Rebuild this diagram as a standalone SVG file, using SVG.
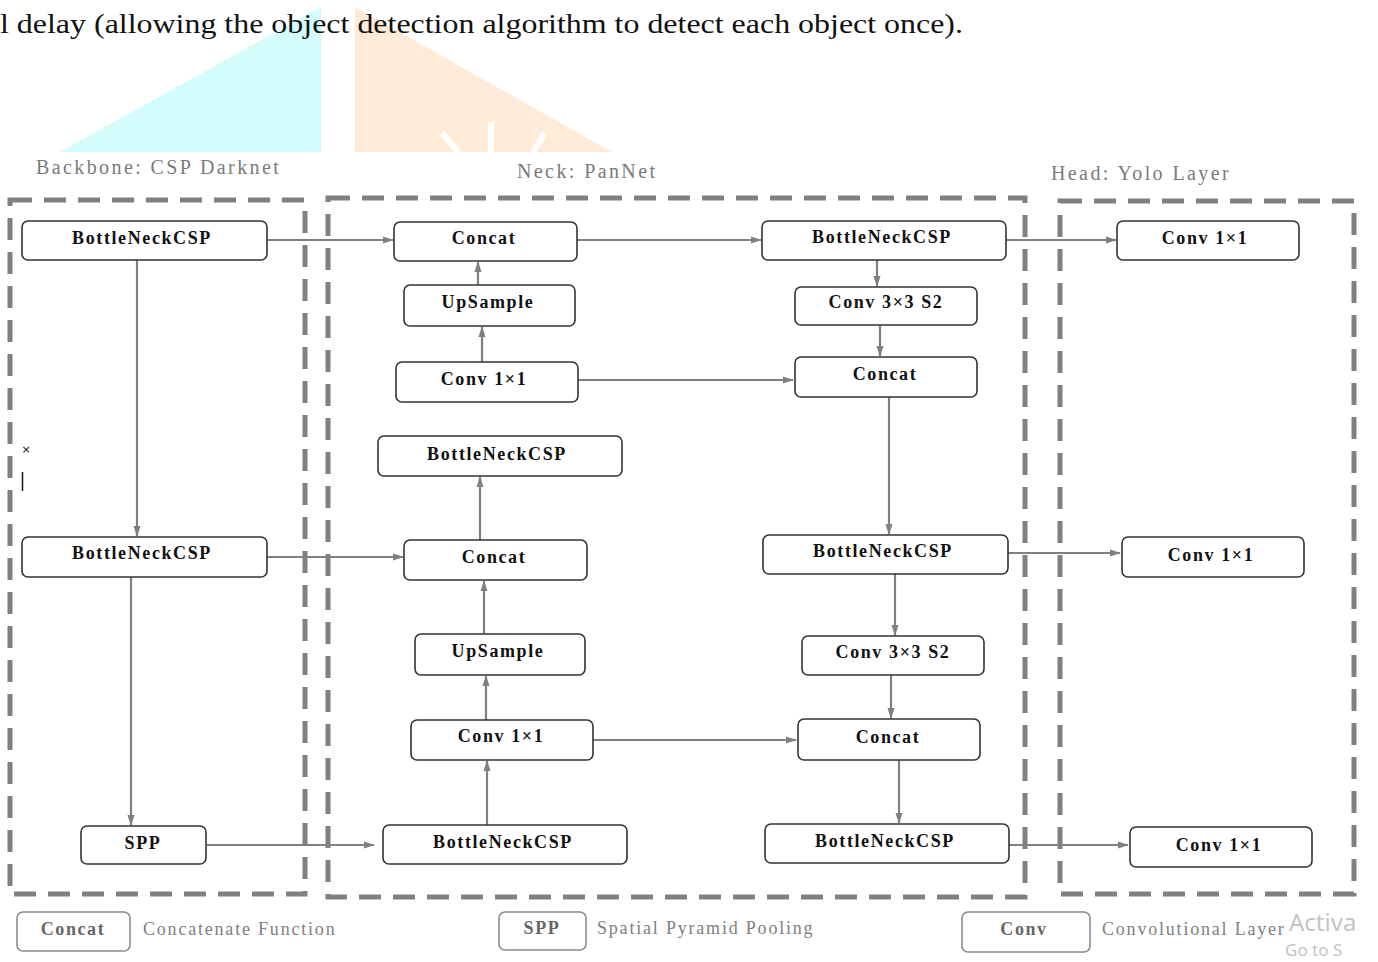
<svg xmlns="http://www.w3.org/2000/svg" width="1378" height="962" viewBox="0 0 1378 962">
<defs>
<marker id="ah" markerWidth="11" markerHeight="9" refX="10" refY="4.5" orient="auto" markerUnits="userSpaceOnUse">
<path d="M0,1 L11,4.5 L0,8 Z" fill="#808080"/>
</marker>
<style>
.box{fill:#fff;stroke:#333;stroke-width:1.6}
.lbox{fill:#fff;stroke:#8a8a8a;stroke-width:1.6}
.t{font-family:"Liberation Serif","Times New Roman",serif;font-weight:bold;font-size:18px;letter-spacing:1.6px;fill:#111;text-anchor:middle}
.lt{font-family:"Liberation Serif","Times New Roman",serif;font-weight:bold;font-size:18px;letter-spacing:1.6px;fill:#666;text-anchor:middle}
.sec{font-family:"Liberation Serif","Times New Roman",serif;font-size:20px;fill:#7a7a7a;letter-spacing:2.4px}
.leg{font-family:"Liberation Serif","Times New Roman",serif;font-size:18px;fill:#808080;letter-spacing:1.8px}
.dash{fill:none;stroke:#808080;stroke-width:5;stroke-dasharray:22 12}
.c{fill:none;stroke:#808080;stroke-width:2.2;marker-end:url(#ah)}
.body{font-family:"Liberation Serif","Times New Roman",serif;font-size:27px;fill:#111}
.wm1{font-family:"Noto Sans","Open Sans",sans-serif;font-size:24px;fill:#c4c4c4}
.wm2{font-family:"Noto Sans","Open Sans",sans-serif;font-size:17px;fill:#c4c4c4}
</style>
</defs>
<rect width="1378" height="962" fill="#fff"/>
<polygon points="60,152 321,7 321,152" fill="#D4FCFC"/>
<polygon points="355,7 355,152 612,152" fill="#FFEBD8"/>
<g stroke="#fff" stroke-width="6" fill="none">
<line x1="491" y1="122" x2="491" y2="152"/>
<line x1="442" y1="133" x2="458" y2="152"/>
<line x1="545" y1="133" x2="533" y2="152"/>
</g>
<text class="body" x="0" y="33" textLength="963" lengthAdjust="spacingAndGlyphs">l delay (allowing the object detection algorithm to detect each object once).</text>

<text class="sec" x="36" y="174">Backbone: CSP Darknet</text>
<text class="sec" x="517" y="178">Neck: PanNet</text>
<text class="sec" x="1051" y="180">Head: Yolo Layer</text>

<g id="groups">
<rect class="dash" x="10" y="200" width="295" height="694"/>
<rect class="dash" x="328" y="198" width="697" height="699"/>
<rect class="dash" x="1060" y="201" width="294" height="693"/>
</g>

<g id="connectors">
<path class="c" d="M267,240 H393"/>
<path class="c" d="M577,240 H761"/>
<path class="c" d="M1006,240 H1116"/>
<path class="c" d="M137,260 V536"/>
<path class="c" d="M131,577 V825"/>
<path class="c" d="M267,557 H403"/>
<path class="c" d="M207,845 H374"/>
<path class="c" d="M478,285 V262"/>
<path class="c" d="M482,362 V327"/>
<path class="c" d="M578,380 H793"/>
<path class="c" d="M480,540 V477"/>
<path class="c" d="M484,634 V581"/>
<path class="c" d="M486,720 V676"/>
<path class="c" d="M487,825 V761"/>
<path class="c" d="M593,740 H796"/>
<path class="c" d="M877,260 V286"/>
<path class="c" d="M880,325 V356"/>
<path class="c" d="M889,397 V534"/>
<path class="c" d="M895,574 V635"/>
<path class="c" d="M891,675 V718"/>
<path class="c" d="M899,760 V823"/>
<path class="c" d="M1008,553 H1120"/>
<path class="c" d="M1009,845 H1128"/>
</g>

<g id="bb1"><rect class="box" x="22" y="221" width="245" height="39" rx="6"/><text class="t" x="142" y="244">BottleNeckCSP</text></g>
<g id="bb2"><rect class="box" x="22" y="537" width="245" height="40" rx="6"/><text class="t" x="142" y="559">BottleNeckCSP</text></g>
<g id="spp"><rect class="box" x="81" y="826" width="125" height="38" rx="6"/><text class="t" x="143" y="849">SPP</text></g>

<g id="concat1"><rect class="box" x="394" y="222" width="183" height="39" rx="6"/><text class="t" x="484" y="244">Concat</text></g>
<g id="upsample1"><rect class="box" x="404" y="285" width="171" height="41" rx="6"/><text class="t" x="488" y="308">UpSample</text></g>
<g id="conv1a"><rect class="box" x="396" y="362" width="182" height="40" rx="6"/><text class="t" x="484" y="385">Conv 1×1</text></g>
<g id="bnn1"><rect class="box" x="378" y="436" width="244" height="40" rx="6"/><text class="t" x="497" y="460">BottleNeckCSP</text></g>
<g id="concat2"><rect class="box" x="404" y="540" width="183" height="40" rx="6"/><text class="t" x="494" y="563">Concat</text></g>
<g id="upsample2"><rect class="box" x="415" y="634" width="170" height="41" rx="6"/><text class="t" x="498" y="657">UpSample</text></g>
<g id="conv1b"><rect class="box" x="411" y="720" width="182" height="40" rx="6"/><text class="t" x="501" y="742">Conv 1×1</text></g>
<g id="bnn2"><rect class="box" x="383" y="825" width="244" height="39" rx="6"/><text class="t" x="503" y="848">BottleNeckCSP</text></g>

<g id="bnr1"><rect class="box" x="762" y="221" width="244" height="39" rx="6"/><text class="t" x="882" y="243">BottleNeckCSP</text></g>
<g id="conv3a"><rect class="box" x="795" y="287" width="182" height="38" rx="6"/><text class="t" x="886" y="308">Conv 3×3 S2</text></g>
<g id="concatr1"><rect class="box" x="795" y="357" width="182" height="40" rx="6"/><text class="t" x="885" y="380">Concat</text></g>
<g id="bnr2"><rect class="box" x="763" y="535" width="245" height="39" rx="6"/><text class="t" x="883" y="557">BottleNeckCSP</text></g>
<g id="conv3b"><rect class="box" x="802" y="636" width="182" height="39" rx="6"/><text class="t" x="893" y="658">Conv 3×3 S2</text></g>
<g id="concatr2"><rect class="box" x="798" y="719" width="182" height="41" rx="6"/><text class="t" x="888" y="743">Concat</text></g>
<g id="bnr3"><rect class="box" x="765" y="824" width="244" height="39" rx="6"/><text class="t" x="885" y="847">BottleNeckCSP</text></g>

<g id="h1"><rect class="box" x="1117" y="221" width="182" height="39" rx="6"/><text class="t" x="1205" y="244">Conv 1×1</text></g>
<g id="h2"><rect class="box" x="1122" y="537" width="182" height="40" rx="6"/><text class="t" x="1211" y="561">Conv 1×1</text></g>
<g id="h3"><rect class="box" x="1130" y="827" width="182" height="40" rx="6"/><text class="t" x="1219" y="851">Conv 1×1</text></g>

<text x="26" y="453" font-family="'DejaVu Sans',sans-serif" font-size="11" fill="#111" text-anchor="middle">×</text>
<line x1="22.5" y1="472" x2="22.5" y2="491" stroke="#111" stroke-width="1.5"/>

<g id="legend">
<g id="leg-concat"><rect class="lbox" x="17" y="912" width="113" height="39" rx="6"/><text class="lt" x="73" y="935">Concat</text><text class="leg" x="143" y="935">Concatenate Function</text></g>
<g id="leg-spp"><rect class="lbox" x="499" y="912" width="87" height="38" rx="6"/><text class="lt" x="542" y="934">SPP</text><text class="leg" x="597" y="934">Spatial Pyramid Pooling</text></g>
<g id="leg-conv"><rect class="lbox" x="962" y="912" width="128" height="40" rx="6"/><text class="lt" x="1024" y="935">Conv</text><text class="leg" x="1102" y="935">Convolutional Layer</text></g>
</g>
<text class="wm1" x="1289" y="931">Activa</text>
<text class="wm2" x="1285" y="956">Go to S</text>
</svg>
